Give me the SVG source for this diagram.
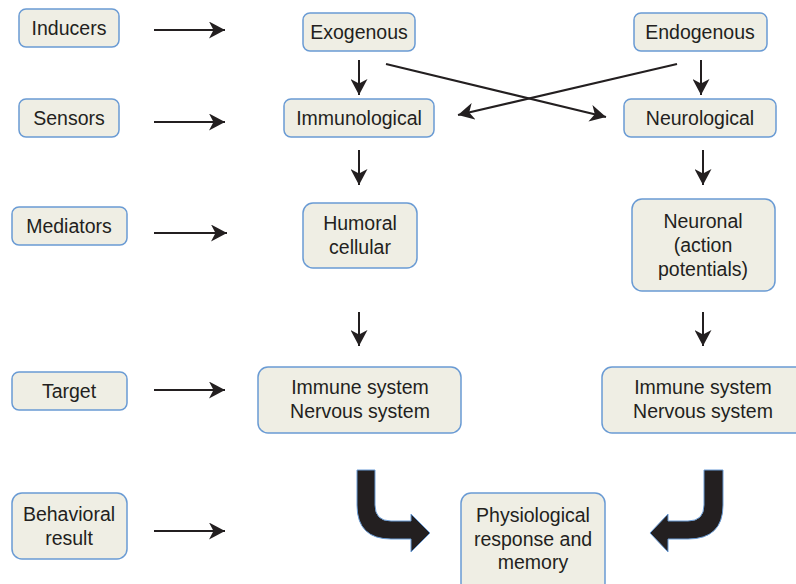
<svg xmlns="http://www.w3.org/2000/svg" width="796" height="584" viewBox="0 0 796 584">
<style>
.box{fill:#efeee4;stroke:#6a9bd4;stroke-width:1.5}
.t{font-family:"Liberation Sans",Arial,sans-serif;font-size:19.5px;fill:#231f20;text-anchor:middle}
.ln{stroke:#231f20;stroke-width:2;fill:none;marker-end:url(#ah)}
.big{fill:#231f20;stroke:#6a9bd4;stroke-width:1}
</style>
<defs>
<marker id="ah" markerUnits="userSpaceOnUse" markerWidth="16" markerHeight="17" refX="16" refY="8.5" orient="auto">
<path d="M0,0 L16,8.5 L0,17 L4.5,8.5 Z" fill="#231f20"/>
</marker>
</defs>
<rect width="796" height="584" fill="#fff"/>

<g id="inducers"><rect class="box" x="19" y="9" width="100" height="38" rx="7"/><text class="t" x="69" y="35">Inducers</text></g>
<g id="sensors"><rect class="box" x="19" y="99" width="100" height="38" rx="7"/><text class="t" x="69" y="125">Sensors</text></g>
<g id="mediators"><rect class="box" x="12" y="207" width="115" height="38" rx="7"/><text class="t" x="69" y="233">Mediators</text></g>
<g id="target"><rect class="box" x="12" y="372" width="115" height="38" rx="7"/><text class="t" x="69" y="398">Target</text></g>
<g id="behavioral"><rect class="box" x="12" y="493" width="115" height="66" rx="10"/><text class="t" x="69" y="521">Behavioral</text><text class="t" x="69" y="545">result</text></g>

<g id="exogenous"><rect class="box" x="303" y="13" width="112" height="38" rx="7"/><text class="t" x="359" y="39">Exogenous</text></g>
<g id="endogenous"><rect class="box" x="634" y="13" width="133" height="38" rx="7"/><text class="t" x="700" y="39">Endogenous</text></g>
<g id="immunological"><rect class="box" x="284" y="99" width="150" height="38" rx="7"/><text class="t" x="359" y="125">Immunological</text></g>
<g id="neurological"><rect class="box" x="624" y="99" width="152" height="38" rx="7"/><text class="t" x="700" y="125">Neurological</text></g>
<g id="humoral"><rect class="box" x="303" y="203" width="114" height="65" rx="10"/><text class="t" x="360" y="230">Humoral</text><text class="t" x="360" y="254">cellular</text></g>
<g id="neuronal"><rect class="box" x="632" y="199" width="143" height="92" rx="10"/><text class="t" x="703" y="228">Neuronal</text><text class="t" x="703" y="252">(action</text><text class="t" x="703" y="276">potentials)</text></g>
<g id="target-left"><rect class="box" x="258" y="367" width="203" height="66" rx="10"/><text class="t" x="360" y="394">Immune system</text><text class="t" x="360" y="418">Nervous system</text></g>
<g id="target-right"><rect class="box" x="602" y="367" width="210" height="66" rx="10"/><text class="t" x="703" y="394">Immune system</text><text class="t" x="703" y="418">Nervous system</text></g>
<g id="physiological"><rect class="box" x="461" y="493" width="144" height="100" rx="10"/><text class="t" x="533" y="522">Physiological</text><text class="t" x="533" y="546">response and</text><text class="t" x="533" y="569">memory</text></g>

<g id="connectors">
<line class="ln" x1="154" y1="30" x2="225" y2="30"/>
<line class="ln" x1="154" y1="122" x2="225" y2="122"/>
<line class="ln" x1="154" y1="233" x2="227" y2="233"/>
<line class="ln" x1="154" y1="390" x2="225" y2="390"/>
<line class="ln" x1="154" y1="531" x2="225" y2="531"/>
<line class="ln" x1="359" y1="60" x2="359" y2="95"/>
<line class="ln" x1="701" y1="60" x2="701" y2="95"/>
<line class="ln" x1="386" y1="64" x2="606" y2="117"/>
<line class="ln" x1="677" y1="64" x2="458" y2="115"/>
<line class="ln" x1="359" y1="150" x2="359" y2="185"/>
<line class="ln" x1="703" y1="150" x2="703" y2="185"/>
<line class="ln" x1="359" y1="312" x2="359" y2="346"/>
<line class="ln" x1="703" y1="312" x2="703" y2="346"/>
<path class="big" d="M357,470 L375,470 L375,505 Q375,521 391,521 L411,521 L411,514 L430,533 L411,552 L411,539 L391,539 Q357,539 357,505 Z"/>
<path class="big" d="M723,470 L704,470 L704,505 Q704,521 688,521 L668,521 L668,514 L650,533 L668,552 L668,539 L688,539 Q723,539 723,505 Z"/>
</g>
</svg>
